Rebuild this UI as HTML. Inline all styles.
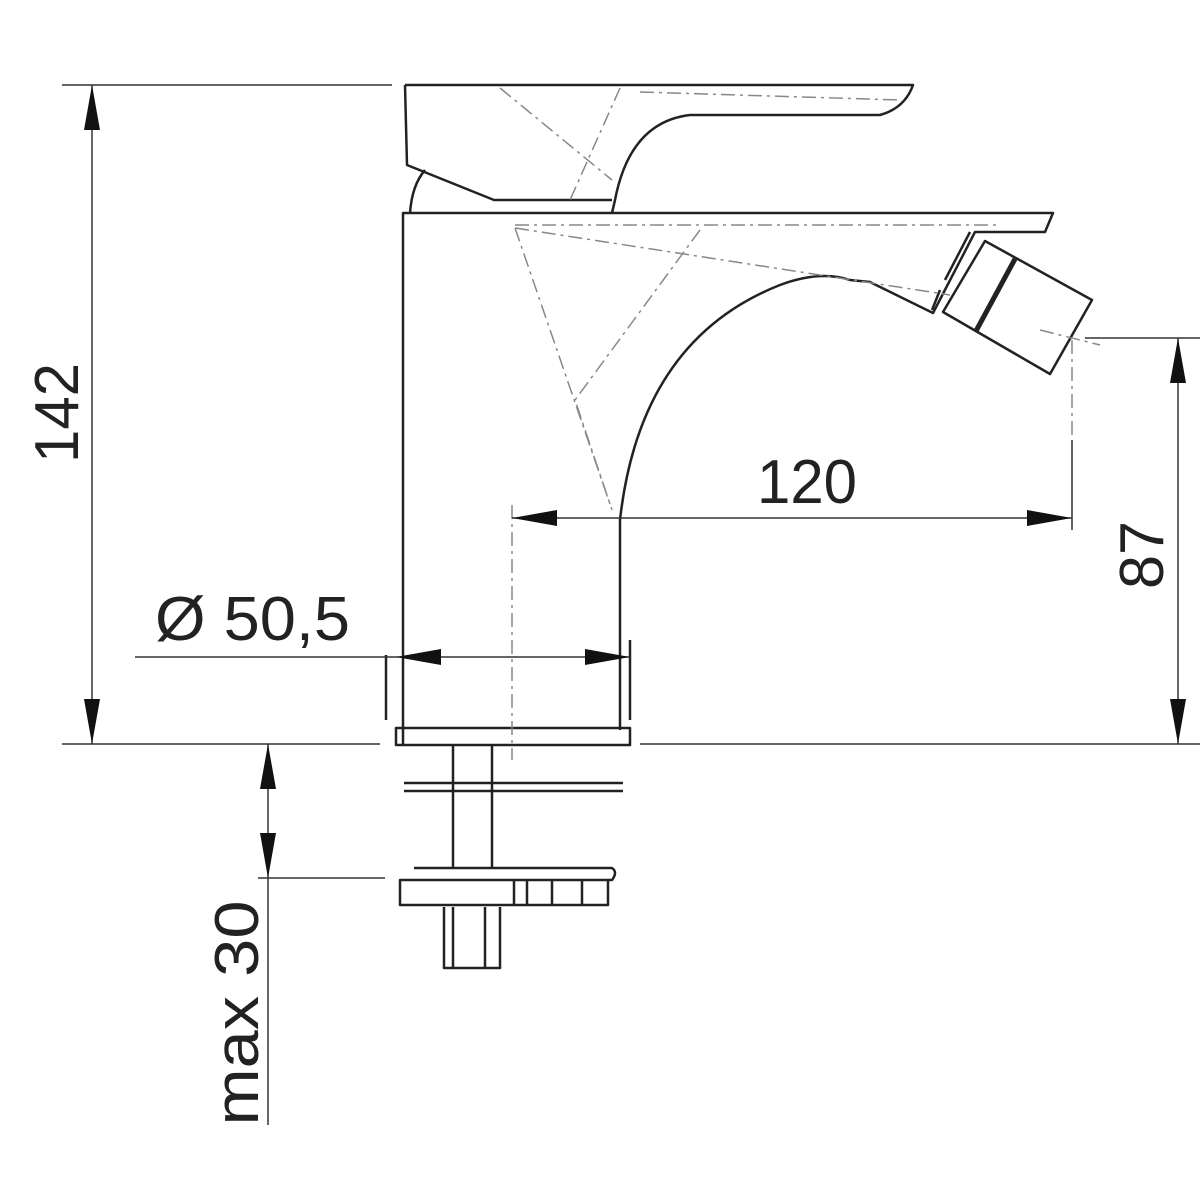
<!DOCTYPE html>
<html><head><meta charset="utf-8"><style>html,body{margin:0;padding:0;background:#fff}svg{display:block}</style></head>
<body>
<svg width="1200" height="1200" viewBox="0 0 1200 1200" xmlns="http://www.w3.org/2000/svg" font-family="Liberation Sans, sans-serif">
<g fill="none" stroke="#222" stroke-width="2.5" stroke-linejoin="round">
<!-- lever -->
<path d="M405,85 L913,85 Q905,108 880,115 L690,115 Q630,122 615,200 L612,213"/>
<path d="M405,85 L407,165 L494,200 L612,200"/>
<path d="M410,213 Q412,185 425,170"/>
<!-- body -->
<path d="M403,745 L403,213 L1053,213 L1045,232 L975,232 L933,313 L870,282 L850,280 Q820,270 780,285 Q640,340 620,520 L620,730"/>
<!-- nozzle -->
<path d="M985,241 L1092,300 L1050,374 L943,312 Z"/>
<path d="M1015,259 L976,331" stroke-width="5"/>
<path d="M970,232 L945,280 M940,290 L932,310"/>
<!-- base -->
<path d="M396,728 L396,745 L630,745 L630,728 Z"/>
<path d="M386,655 L386,720 M630,640 L630,720"/>
<path d="M453,745 L453,868 M492,745 L492,868"/>
<path d="M404,783 L623,783 M404,791 L623,791"/>
<path d="M414,868 L612,868 Q618,872 612,880 L400,880 L400,905 L608,905 L608,880"/>
<path d="M514,880 L514,905 M527,880 L527,905 M552,880 L552,905 M582,880 L582,905"/>
<path d="M444,907 L444,968 L500,968 L500,907 M453,907 L453,968 M485,907 L485,968"/>
</g>
<!-- thin dashed construction lines -->
<g fill="none" stroke="#888" stroke-width="1.5" stroke-dasharray="14,5,3,5">
<path d="M515,225 L1000,225"/>
<path d="M515,228 L612,510 M515,228 L950,295 M700,230 L575,400 L612,510 M500,88 L612,180 M620,88 L570,200 M640,92 L900,100"/>
<path d="M1040,330 L1100,345"/>
<path d="M1072,340 L1072,440 M512,505 L512,760"/>
</g>
<g stroke="#333" stroke-width="1.5" fill="none">
<!-- dimension/extension lines -->
<path d="M62,85 L392,85 M62,744 L380,744 M640,744 L1200,744 M1085,338 L1200,338"/>
<path d="M92,85 L92,744 M1178,338 L1178,744"/>
<path d="M512,518 L1072,518 M1072,440 L1072,530"/>
<path d="M135,657 L630,657"/>
<path d="M268,744 L268,1125 M258,878 L385,878"/>
</g>
<g fill="#111" stroke="none">
<path d="M92,85 L84,130 L100,130Z M92,744 L84,699 L100,699Z"/>
<path d="M1178,338 L1170,383 L1186,383Z M1178,744 L1170,699 L1186,699Z"/>
<path d="M512,518 L557,510 L557,526Z M1072,518 L1027,510 L1027,526Z"/>
<path d="M396,657 L441,649 L441,665Z M630,657 L585,649 L585,665Z"/>
<path d="M268,744 L260,789 L276,789Z M268,878 L260,833 L276,833Z"/>
</g>
<g font-size="62" fill="#222">
<text x="0" y="0" transform="translate(78,413) rotate(-90)" text-anchor="middle" textLength="100" lengthAdjust="spacingAndGlyphs">142</text>
<text x="155" y="640" textLength="195" lengthAdjust="spacingAndGlyphs">Ø 50,5</text>
<text x="757" y="503" textLength="100" lengthAdjust="spacingAndGlyphs">120</text>
<text x="0" y="0" transform="translate(1163,555) rotate(-90)" text-anchor="middle" textLength="68" lengthAdjust="spacingAndGlyphs">87</text>
<text x="0" y="0" transform="translate(258,1013) rotate(-90)" text-anchor="middle" textLength="225" lengthAdjust="spacingAndGlyphs">max 30</text>
</g>
</svg>
</body></html>
